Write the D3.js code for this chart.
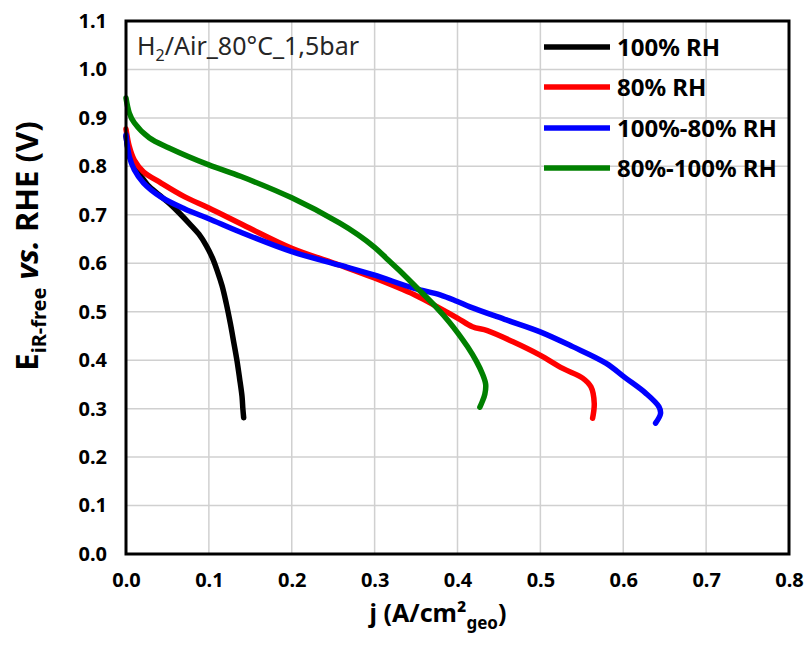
<!DOCTYPE html>
<html>
<head>
<meta charset="utf-8">
<script src="https://cdn.jsdelivr.net/npm/d3@7"></script>
<style>
  html, body { margin: 0; padding: 0; background: #fff; }
  svg { display: block; }
</style>
</head>
<body>
<svg id="chart" width="806" height="646"></svg>
<script>
// ---- data (j in A/cm², E in V) ----
const seriesNames = ["100% RH", "80% RH", "100%-80% RH", "80%-100% RH"];
const seriesColors = ["#000000", "#ff0000", "#0000ff", "#008000"];

const rh100 = [[0,0.862],[0.004,0.825],[0.010,0.800],[0.018,0.780],[0.026,0.762],[0.040,0.741],
  [0.054,0.721],[0.077,0.681],[0.088,0.660],[0.097,0.636],[0.104,0.612],[0.110,0.585],
  [0.116,0.553],[0.121,0.517],[0.126,0.475],[0.130,0.437],[0.134,0.398],[0.137,0.363],
  [0.140,0.325],[0.141,0.300],[0.142,0.281]];

const rh80 = [[0,0.877],[0.004,0.841],[0.010,0.813],[0.021,0.789],[0.042,0.766],[0.071,0.737],
  [0.100,0.714],[0.145,0.676],[0.200,0.631],[0.258,0.596],[0.299,0.570],[0.348,0.535],
  [0.379,0.507],[0.400,0.487],[0.418,0.469],[0.436,0.461],[0.467,0.438],[0.499,0.411],
  [0.527,0.383],[0.551,0.363],[0.561,0.345],[0.565,0.311],[0.563,0.280]];

const rh100to80 = [[0,0.865],[0.004,0.820],[0.010,0.793],[0.021,0.766],[0.042,0.737],[0.071,0.712],
  [0.100,0.692],[0.137,0.665],[0.200,0.624],[0.258,0.596],[0.299,0.576],[0.348,0.548],
  [0.379,0.535],[0.400,0.521],[0.415,0.510],[0.459,0.483],[0.499,0.459],[0.539,0.428],
  [0.579,0.394],[0.603,0.363],[0.627,0.332],[0.643,0.304],[0.645,0.290],[0.639,0.270]];

const rh80to100 = [[0,0.941],[0.004,0.910],[0.010,0.890],[0.028,0.859],[0.052,0.838],[0.100,0.803],
  [0.139,0.779],[0.200,0.735],[0.258,0.683],[0.280,0.659],[0.300,0.633],[0.315,0.609],
  [0.330,0.585],[0.350,0.551],[0.375,0.508],[0.390,0.479],[0.400,0.457],[0.412,0.428],
  [0.423,0.397],[0.430,0.372],[0.434,0.350],[0.433,0.330],[0.430,0.315],[0.427,0.303]];

const xTicks = [0,0.1,0.2,0.3,0.4,0.5,0.6,0.7,0.8];
const yTicks = [0,0.1,0.2,0.3,0.4,0.5,0.6,0.7,0.8,0.9,1.0,1.1];

// ---- layout ----
const svg = d3.select("#chart");
const FONT = "'Noto Sans', 'Open Sans', sans-serif";
const pL = 126, pR = 789, pT = 21, pB = 554;

const x = d3.scaleLinear().domain([0, 0.8]).range([pL, pR]);
const y = d3.scaleLinear().domain([0, 1.1]).range([pB, pT]);

// gridlines
const grid = svg.append("g");
grid.selectAll(".gx").data(xTicks.slice(1, -1)).join("line")
  .attr("x1", d => x(d)).attr("x2", d => x(d))
  .attr("y1", pT).attr("y2", pB)
  .attr("stroke", "#d0d0d0").attr("stroke-width", 1.5);
grid.selectAll(".gy").data(yTicks.slice(1, -1)).join("line")
  .attr("x1", pL).attr("x2", pR)
  .attr("y1", d => y(d)).attr("y2", d => y(d))
  .attr("stroke", "#d0d0d0").attr("stroke-width", 1.5);

// axes (labels only)
const xAxis = svg.append("g").attr("transform", `translate(0,${pB})`)
  .call(d3.axisBottom(x).tickValues(xTicks).tickFormat(d3.format(".1f")).tickSize(0).tickPadding(19));
const yAxis = svg.append("g").attr("transform", `translate(${pL},0)`)
  .call(d3.axisLeft(y).tickValues(yTicks).tickFormat(d3.format(".1f")).tickSize(0).tickPadding(19));
[xAxis, yAxis].forEach(a => {
  a.select(".domain").remove();
  a.selectAll("text").attr("font-family", FONT).attr("font-size", 20)
    .attr("font-weight", "bold").attr("fill", "#000");
});

// data lines
const line = d3.line().x(d => x(d[0])).y(d => y(d[1])).curve(d3.curveCatmullRom.alpha(0.5));
const allSeries = [rh100, rh80, rh100to80, rh80to100];
svg.append("g").selectAll("path").data(allSeries).join("path")
  .attr("d", line)
  .attr("fill", "none")
  .attr("stroke", (d, i) => seriesColors[i])
  .attr("stroke-width", 5.5)
  .attr("stroke-linecap", "round")
  .attr("stroke-linejoin", "round");

// frame
svg.append("rect").attr("x", pL).attr("y", pT)
  .attr("width", pR - pL).attr("height", pB - pT)
  .attr("fill", "none").attr("stroke", "#000").attr("stroke-width", 3);

// annotation
const ann = svg.append("text").attr("x", 137).attr("y", 55)
  .attr("font-family", FONT).attr("font-size", 25).attr("fill", "#262626");
ann.append("tspan").text("H");
ann.append("tspan").attr("font-size", 16).attr("dy", 6).text("2");
ann.append("tspan").attr("dy", -6).text("/Air_80°C_1,5bar");

// legend
const legYs = [47, 87, 128, 168];
const leg = svg.append("g");
seriesNames.forEach((name, i) => {
  leg.append("line").attr("x1", 544).attr("x2", 610)
    .attr("y1", legYs[i]).attr("y2", legYs[i])
    .attr("stroke", seriesColors[i]).attr("stroke-width", 5.5);
  leg.append("text").attr("x", 617).attr("y", legYs[i] + 8.5)
    .attr("font-family", FONT).attr("font-size", 24).attr("font-weight", "bold")
    .attr("fill", "#000").text(name);
});

// x title
const xt = svg.append("text").attr("x", 438).attr("y", 622).attr("text-anchor", "middle")
  .attr("font-family", FONT).attr("font-size", 25).attr("font-weight", "bold").attr("fill", "#000");
xt.append("tspan").text("j (A/cm²");
xt.append("tspan").attr("font-size", 17).attr("dy", 7).text("geo");
xt.append("tspan").attr("dy", -7).text(")");

// y title
const yt = svg.append("text").attr("transform", "translate(38,246) rotate(-90)")
  .attr("text-anchor", "middle")
  .attr("font-family", FONT).attr("font-size", 31).attr("font-weight", "bold").attr("fill", "#000");
yt.append("tspan").text("E");
yt.append("tspan").attr("font-size", 20).attr("dy", 8).text("iR-free");
yt.append("tspan").attr("dy", -8).attr("font-style", "italic").text(" vs.");
yt.append("tspan").text(" RHE (V)");
</script>
</body>
</html>
